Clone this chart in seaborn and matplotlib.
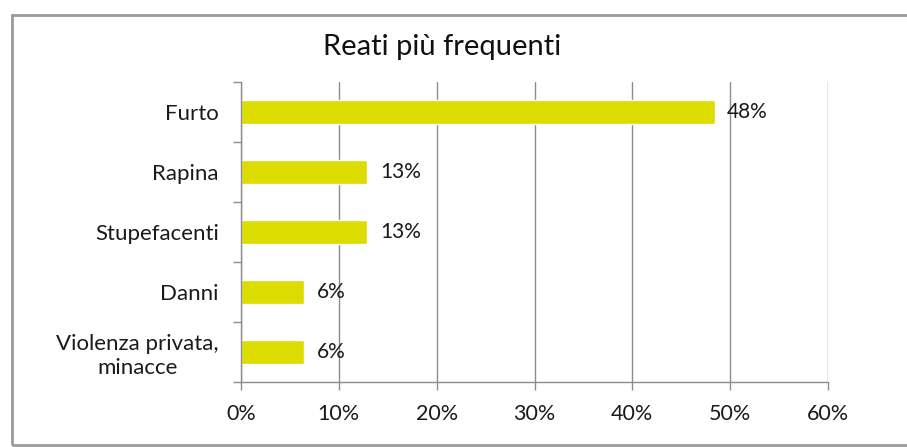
import matplotlib
matplotlib.use("Agg")
import matplotlib.pyplot as plt
import matplotlib.patches as patches
import pandas as pd
import seaborn as sns

categories = ["Furto", "Rapina", "Stupefacenti", "Danni", "Violenza privata,\nminacce"]
shares = [0.484, 0.129, 0.129, 0.0645, 0.0645]
x_ticks = [0.0, 0.1, 0.2, 0.3, 0.4, 0.5, 0.6]
x_tick_labels = ["0%", "10%", "20%", "30%", "40%", "50%", "60%"]

df = pd.DataFrame({"Reato": categories, "Quota": shares})

sns.set_style("white")
plt.rcParams["font.family"] = ["Lato", "DejaVu Sans"]

TEXT = "#1a1a1a"
GRID = "#8c8c8c"

fig = plt.figure(figsize=(9.07, 4.47), dpi=100)
ax = fig.add_axes([241 / 907, 1 - 382 / 447, (828 - 241) / 907, 300 / 447])

sns.barplot(data=df, x="Quota", y="Reato", order=categories, orient="h",
            color="#dcdc00", saturation=1, width=0.4, ax=ax)

for p, v in zip(ax.patches, shares):
    ax.text(p.get_width() + 0.013, p.get_y() + p.get_height() / 2,
            f"{v * 100:.0f}%", va="center", ha="left", fontsize=15, color=TEXT)

ax.set_xlim(0, 0.6)
ax.set_ylim(len(categories) - 0.5, -0.5)
ax.set_xticks(x_ticks)
ax.set_xticklabels(x_tick_labels, fontsize=15.5, color=TEXT)
ax.set_yticks(range(len(categories)))
ax.set_yticklabels(categories, fontsize=16, color=TEXT, multialignment="center",
                   linespacing=1.25)
ax.set_yticks([i - 0.5 for i in range(len(categories) + 1)], minor=True)
ax.set_xlabel("")
ax.set_ylabel("")

ax.grid(axis="x", color=GRID, linewidth=1)
ax.set_axisbelow(True)
for side in ["top", "right"]:
    ax.spines[side].set_visible(False)
for side in ["left", "bottom"]:
    ax.spines[side].set_color(GRID)
    ax.spines[side].set_linewidth(1)

ax.tick_params(axis="y", which="major", length=0, pad=16)
ax.tick_params(axis="y", which="minor", length=6, color=GRID, width=1, left=True)
ax.tick_params(axis="x", which="major", length=6, color=GRID, width=1, bottom=True, pad=10)

fig.text(442 / 907, 1 - 47 / 447, "Reati più frequenti", ha="center", va="center",
         fontsize=21, color="#111111")

frame = patches.Rectangle((12 / 907, 2 / 447), 1.0, 1 - 17 / 447, transform=fig.transFigure,
                          fill=False, edgecolor="#9a9a9a", linewidth=2)
fig.patches.append(frame)

fig.savefig("out.png", dpi=100)
